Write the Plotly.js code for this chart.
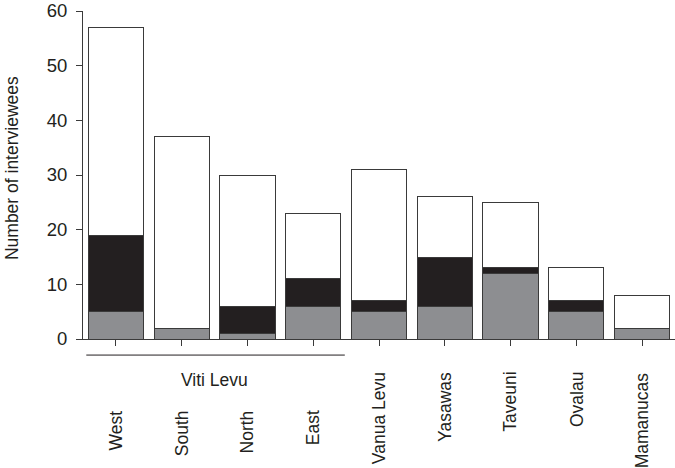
<!DOCTYPE html>
<html>
<head>
<meta charset="utf-8">
<script src="https://cdn.plot.ly/plotly-3.0.1.min.js"></script>
<style>html,body{margin:0;padding:0;background:#fff;}#chart{width:675px;height:468px;}</style>
</head>
<body>
<div id="chart"></div>
<script>
var categories = ["West", "South", "North", "East", "Vanua Levu", "Yasawas", "Taveuni", "Ovalau", "Mamanucas"];
var grayValues = [5, 2, 1, 6, 5, 6, 12, 5, 2];
var blackValues = [14, 0, 5, 5, 2, 9, 1, 2, 0];
var whiteValues = [38, 35, 24, 12, 24, 11, 12, 6, 6];
var groupLabel = "Viti Levu";
var groupMembers = ["West", "South", "North", "East"];
var yTicks = [0, 10, 20, 30, 40, 50, 60];
var yTitle = "Number of interviewees";

var idx = categories.map(function(c, i){ return i; });
var lineStyle = {color: "#3a3a3a", width: 1};
var fam = "Liberation Sans, Arial, sans-serif";
var font = {family: fam, size: 17.5, color: "#231f20"};
var tickFont = {family: fam, size: 18.5, color: "#231f20"};

var traces = [
  {type: "bar", x: idx, y: grayValues, marker: {color: "#8d8e91", line: lineStyle}, hoverinfo: "none"},
  {type: "bar", x: idx, y: blackValues, marker: {color: "#231f20", line: lineStyle}, hoverinfo: "none"},
  {type: "bar", x: idx, y: whiteValues, marker: {color: "#ffffff", line: lineStyle}, hoverinfo: "none"}
];

var annotations = [];
categories.forEach(function(c, i){
  var inGroup = groupMembers.indexOf(c) >= 0;
  annotations.push({
    text: c, x: i, xref: "x", y: inGroup ? -0.212 : -0.095, yref: "paper",
    textangle: -90, xanchor: "center", yanchor: "top", showarrow: false, font: font
  });
});
annotations.push({
  text: groupLabel, x: (groupMembers.length - 1) / 2, xref: "x", y: -0.124, yref: "paper",
  xanchor: "center", yanchor: "middle", showarrow: false, font: font
});
annotations.push({
  text: yTitle, x: -0.12, xref: "paper", y: 0.521, yref: "paper",
  textangle: -90, xanchor: "center", yanchor: "middle", showarrow: false, font: font
});

var layout = {
  width: 675, height: 468,
  margin: {l: 83, r: 0, t: 11, b: 129},
  barmode: "stack",
  bargap: 0.16,
  showlegend: false,
  paper_bgcolor: "#ffffff",
  plot_bgcolor: "#ffffff",
  font: font,
  xaxis: {
    range: [-0.5, categories.length - 0.5],
    tickmode: "array", tickvals: idx, ticktext: categories.map(function(){return "";}),
    tickson: "boundaries", ticks: "outside", ticklen: 6, tickcolor: "#3a3a3a", tickwidth: 1,
    showline: true, linecolor: "#3a3a3a", linewidth: 1,
    showgrid: false, zeroline: false, showticklabels: false, fixedrange: true
  },
  yaxis: {
    range: [0, 60],
    tickmode: "array", tickvals: yTicks, ticktext: yTicks.map(String),
    ticks: "outside", ticklen: 6, tickcolor: "#3a3a3a", tickwidth: 1,
    ticklabelstandoff: 5, ticklabeloverflow: "allow",
    showline: true, linecolor: "#3a3a3a", linewidth: 1,
    showgrid: false, zeroline: false, fixedrange: true,
    tickfont: tickFont
  },
  shapes: [{
    type: "line", xref: "x", yref: "paper",
    x0: -0.45, x1: groupMembers.length - 0.52, y0: -0.049, y1: -0.049,
    line: {color: "#231f20", width: 1}
  }],
  annotations: annotations
};

Plotly.newPlot("chart", traces, layout, {displayModeBar: false, staticPlot: true});
</script>
</body>
</html>
